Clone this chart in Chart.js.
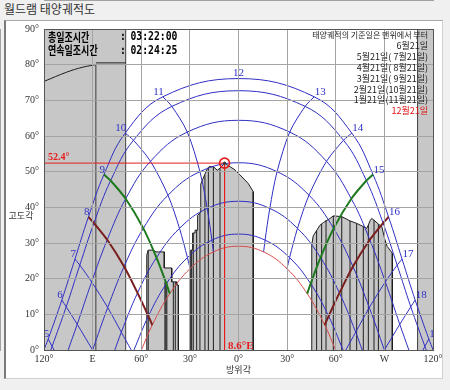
<!DOCTYPE html>
<html><head><meta charset="utf-8">
<script src="https://cdn.jsdelivr.net/npm/chart.js@4.4.1/dist/chart.umd.min.js"></script>
<style>
html,body{margin:0;padding:0;background:#f0f0f0;width:450px;height:390px;overflow:hidden;}
#title{position:absolute;left:4px;top:0px;font:12px "Noto Sans CJK KR";color:#333;line-height:18px;}
#panel{position:absolute;left:4px;top:20px;width:436px;height:357px;background:#fff;border:1px solid #d0d0d0;border-left:2px solid #7a7a7a;border-top:1px solid #a8a8a8;}
#c{position:absolute;left:0;top:0;}
</style></head><body>
<div id="title">월드램 태양궤적도</div>
<div id="panel"></div>
<canvas id="c" width="450" height="390"></canvas>
<script>
// ---------- data (azimuth: degrees from south, east negative; altitude: degrees) ----------
const hours = [5,6,7,8,9,10,11,12,13,14,15,16,17,18,19];
const dateNames = ['6월21일','5월21일( 7월21일)','4월21일( 8월21일)','3월21일( 9월21일)','2월21일(10월21일)','1월21일(11월21일)','12월21일'];
const legendHead = '태양궤적의 기준일은 맨위에서 부터';

const junAz  = [-117.4,-109.0,-100.9,-92.6,-83.0,-69.9,-46.7,0,46.7,69.9,83.0,92.6,100.9,109.0,117.4];
const junAlt = [3.1,14.0,25.5,37.3,49.2,60.8,71.0,76.1,71.0,60.8,49.2,37.3,25.5,14.0,3.1];
const mayAz  = [-115.0,-106.3,-97.9,-89.2,-78.9,-64.8,-41.1,0,41.1,64.8,78.9,89.2,97.9,106.3,115.0];
const mayAlt = [1.0,12.1,23.8,35.6,47.5,58.8,68.3,72.7,68.3,58.8,47.5,35.6,23.8,12.1,1.0];
const aprAz  = [null,-99.5,-90.6,-81.0,-69.6,-54.3,-31.6,0,31.6,54.3,69.6,81.0,90.6,99.5,null];
const aprAlt = [null,7.2,19.1,30.9,42.4,52.9,61.1,64.4,61.1,52.9,42.4,30.9,19.1,7.2,null];
const marAz  = [null,-90.0,-80.7,-70.6,-58.7,-43.5,-23.8,0,23.8,43.5,58.7,70.6,80.7,90.0,null];
const marAlt = [null,0,11.9,23.4,34.1,43.4,50.0,52.5,50.0,43.4,34.1,23.4,11.9,0,null];
const febAz  = [null,null,-72.3,-62.3,-50.6,-36.4,-19.3,0,19.3,36.4,50.6,62.3,72.3,null,null];
const febAlt = [null,null,5.0,16.0,25.9,34.1,39.7,41.7,39.7,34.1,25.9,16.0,5.0,null,null];
const janAz  = [null,null,null,-55.6,-44.5,-31.5,-16.4,0,16.4,31.5,44.5,55.6,null,null,null];
const janAlt = [null,null,null,9.5,18.6,25.9,30.8,32.5,30.8,25.9,18.6,9.5,null,null,null];
const decAz  = [null,null,null,-53.2,-42.4,-29.9,-15.5,0,15.5,29.9,42.4,53.2,null,null,null];
const decAlt = [null,null,null,7.0,15.8,22.8,27.5,29.1,27.5,22.8,15.8,7.0,null,null,null];
const riseAz = [120.1,115.8,105.1,90.0,76.3,64.5,59.9];
const hourHorizonAz = [-113.8,null,-66.2,null,null,null,null,null,null,null,null,null,66.2,null,113.8];

// obstructions
const obstLeftAz = [-120,-69.6];
const obstRightAz = [110.5,120];
const obstTop = 90;
const obstCurveAz = [-120,-106,-96,-88];
const obstCurveAlt = [75.3,77.9,79.3,80.0];
const obstFlatAz = [-88,-69.6];
const obstFlatAlt = 80.5;

// buildings (silhouettes)
const bldgAAz  = [-56.6,-56.6,-55.7,-52.6,-50.9,-45.8,-45.8,-41.2,-41.2,-38.1,-38.1,-37.1,-37.1];
const bldgAAlt = [0,26.6,28.0,28.0,27.5,27.5,23.0,23.0,19.1,19.1,18.2,18.2,0];
const bldgBAz  = [-29.5,-29.5,-28.3,-28.3,-26.8,-26.8,-25.2,-25.2,-23.3,-23.3,-21.9,-19.6,-18.2,-15.5,-13.1,-11.4,-8.6,-5.2,-2.2,0.9,6.0,9.1,9.1];
const bldgBAlt = [0,28.0,28.0,32.8,32.8,33.6,33.6,37.8,38.5,46.5,48.0,50.5,51.4,51.4,50.4,51.0,52.4,51.4,50.5,49.1,46.7,44.4,0];
const bldgCAz  = [45.2,45.2,46.1,48.2,50.3,52.3,56.5,58.5,63.7,68.8,72.9,77.0,79.1,80.1,81.1,82.2,83.6,86.3,88.4,90.4,91.8,93.5,94.9,94.9];
const bldgCAlt = [0,29.5,32.0,33.5,35.0,35.7,36.9,37.6,37.4,36.2,35.5,34.6,34.1,35.0,36.2,36.9,36.4,35.3,34.6,30.8,29.0,28.0,27.1,0];
// building facade division lines
const lineAAz  = [-55.7,-45.4,-44.8,-44.2,-40.2,-39.0];
const lineATop = [28.0,19.1,19.1,19.1,19.1,19.1];
const lineBAz  = [-28.9,-27.9,-25.8,-23.8,-20.7,-18.6,-15.5,-11.4];
const lineBTop = [28.0,32.8,33.6,38.3,49.0,51.2,51.4,51.0];
const lineCAz  = [48.2,51.3,54.0,58.5,63.7,68.8,72.9,77.0,80.1,83.6,86.3,90.4];
const lineCTop = [33.5,35.3,36.4,37.6,37.4,36.2,35.5,34.6,35.0,36.4,35.3,30.8];

// selected point
const markerAz = [-8.6];
const markerAlt = [52.4];
const markerLabels = ['52.4°','8.6°E'];

// info
const infoNames = ['총일조시간','연속일조시간'];
const infoTimes = ['03:22:00','02:24:25'];

// ticks
const xTickValues = [-120,-90,-60,-30,0,30,60,90,120];
const xTickLabels = ['120°','E','60°','30°','0°','30°','60°','W','120°'];
const yTickValues = [0,10,20,30,40,50,60,70,80,90];
const yTickLabels = ['0°','10°','20°','30°','40°','50°','60°','70°','80°','90°'];
const axisTitles = ['고도각','방위각'];

// ---------- build datasets ----------
const BLUE='#2f2fc4', DECRED='#d84a4a', GREEN='#1d7a1d', MAROON='#7a1d1d', MARK='#e81c1c', DARK='#1e1e1e', FILL='#c7c7c7';
const dateAz = [junAz,mayAz,aprAz,marAz,febAz,janAz,decAz];
const dateAlt = [junAlt,mayAlt,aprAlt,marAlt,febAlt,janAlt,decAlt];
const pts = (az, alt) => az.map((a,i)=>({x:a, y:Array.isArray(alt)?alt[i]:alt}));
const vlines = (az, top) => az.flatMap((a,i)=>[{x:a,y:0},{x:a,y:top[i]},{x:a,y:null}]);
const base = {showLine:true, pointRadius:0, pointHoverRadius:0, fill:false, tension:0, borderWidth:1};

const datasets = [];
// obstruction fills
datasets.push({...base, order:100, data:pts(obstLeftAz, obstTop), fill:'origin', backgroundColor:FILL, borderWidth:0, borderColor:'rgba(0,0,0,0)'});
datasets.push({...base, order:100, data:pts(obstRightAz, obstTop), fill:'origin', backgroundColor:FILL, borderWidth:0, borderColor:'rgba(0,0,0,0)'});
// obstruction outlines
datasets.push({...base, order:95, data:pts(obstCurveAz, obstCurveAlt), borderColor:DARK, tension:0.4});
datasets.push({...base, order:95, data:pts(obstFlatAz, obstFlatAlt), borderColor:DARK});
datasets.push({...base, order:95, data:vlines([obstCurveAz[3], obstLeftAz[1], obstRightAz[0]], [obstCurveAlt[3], obstTop, obstTop]), borderColor:'#3a3a3a', spanGaps:false});
// buildings
[[bldgAAz,bldgAAlt],[bldgBAz,bldgBAlt],[bldgCAz,bldgCAlt]].forEach(([az,alt])=>{
  datasets.push({...base, order:90, data:pts(az,alt), fill:'origin', backgroundColor:FILL, borderColor:DARK});
});
[[lineAAz,lineATop],[lineBAz,lineBTop],[lineCAz,lineCTop]].forEach(([az,top])=>{
  datasets.push({...base, order:85, data:vlines(az,top), borderColor:DARK, spanGaps:false});
});
// sun paths per date
dateAz.forEach((az,d)=>{
  const alt = dateAlt[d];
  const p = [{x:-riseAz[d], y:0}];
  az.forEach((a,i)=>{ if(a!==null && alt[i]>0) p.push({x:a,y:alt[i]}); });
  p.push({x:riseAz[d], y:0});
  datasets.push({...base, order: d===6?45:50, data:p, borderColor: d===6?DECRED:BLUE, tension:0.4});
});
// hour lines
const hourColor = {8:MAROON,16:MAROON,9:GREEN,15:GREEN};
hours.forEach((h,i)=>{
  const p = [];
  dateAz.forEach((az,d)=>{ if(az[i]!==null) p.push({x:az[i], y:dateAlt[d][i]}); });
  if(hourHorizonAz[i]!==null) p.push({x:hourHorizonAz[i], y:0});
  const c = hourColor[h];
  datasets.push({...base, order: c?40:50, data:p, borderColor: c||BLUE, borderWidth: c?2:1, tension:0.3});
});
// marker lines
datasets.push({...base, order:20, data:[{x:xTickValues[0],y:markerAlt[0]},{x:markerAz[0],y:markerAlt[0]}], borderColor:MARK});
datasets.push({...base, order:20, data:[{x:markerAz[0],y:markerAlt[0]},{x:markerAz[0],y:0}], borderColor:MARK});
datasets.push({showLine:false, order:10, data:pts(markerAz,markerAlt), pointRadius:5, pointBorderColor:MARK, pointBackgroundColor:'rgba(0,0,0,0)', pointBorderWidth:1.6});
datasets.push({showLine:false, order:9, data:pts(markerAz,markerAlt), pointRadius:1.5, pointBorderColor:'#333', pointBackgroundColor:'#333', pointBorderWidth:0});

// ---------- text plugin ----------
const textPlugin = {
  id:'texts',
  afterDraw(chart){
    const {ctx, chartArea:a, scales:{x, y}} = chart;
    ctx.save();
    // hour labels on the June path
    ctx.save();
    ctx.beginPath(); ctx.rect(a.left, a.top, a.right-a.left, a.bottom-a.top); ctx.clip();
    ctx.font = '11px "Liberation Serif"'; ctx.fillStyle = '#3030c8'; ctx.textBaseline='alphabetic';
    hours.forEach((h,i)=>{
      const px = x.getPixelForValue(junAz[i]), py = y.getPixelForValue(junAlt[i]);
      if(i<7){ctx.textAlign='right'; ctx.fillText(String(h), px+1, py-2);}
      else if(i===7){ctx.textAlign='center'; ctx.fillText(String(h), px, py-3);}
      else {ctx.textAlign='left'; ctx.fillText(String(h), px+0.5, py-2);}
    });
    ctx.restore();
    // info box
    ctx.fillStyle = '#000'; ctx.textBaseline = 'middle'; ctx.textAlign = 'left';
    ctx.font = 'bold 12px "Noto Sans CJK KR"';
    infoNames.forEach((t,i)=>{
      const yy = a.top + 8 + i*13.5;
      ctx.save(); ctx.translate(a.left+4, yy); ctx.scale(0.75,1); ctx.fillText(t,0,0); ctx.restore();
      ctx.font = 'bold 13px "DejaVu Sans Mono"';
      ctx.save(); ctx.translate(a.left+76, yy); ctx.scale(0.75,1); ctx.fillText(':',0,0); ctx.fillText(infoTimes[i], 10.5/0.75, 0); ctx.restore();
      ctx.font = 'bold 12px "Noto Sans CJK KR"';
    });
    // legend (top-right)
    ctx.textAlign = 'right'; ctx.fillStyle = '#222';
    ctx.font = '8px "Noto Sans CJK KR"';
    ctx.fillText(legendHead, a.right-5, a.top+6);
    ctx.font = '9px "Noto Sans CJK KR"';
    dateNames.forEach((t,i)=>{
      ctx.fillStyle = i===6 ? '#e01010' : '#222';
      ctx.fillText(t, a.right-5, a.top+17+i*10.8);
    });
    // marker labels
    ctx.fillStyle = MARK; ctx.textAlign='left'; ctx.textBaseline='alphabetic';
    ctx.font = 'bold 10px "Liberation Serif"';
    ctx.fillText(markerLabels[0], a.left+4, y.getPixelForValue(markerAlt[0])-3);
    ctx.font = 'bold 11px "Liberation Serif"';
    ctx.fillText(markerLabels[1], x.getPixelForValue(markerAz[0])+3.5, a.bottom-1.5);
    // axis titles
    ctx.fillStyle = '#333'; ctx.textAlign='center'; ctx.textBaseline='middle';
    ctx.font = '9px "Noto Sans CJK KR"';
    ctx.fillText(axisTitles[0], 21, (a.top+a.bottom)/2+26);
    ctx.fillText(axisTitles[1], (a.left+a.right)/2, a.bottom+19.5);
    // frame
    ctx.strokeStyle = '#555'; ctx.lineWidth = 1;
    ctx.strokeRect(a.left+0.5, a.top+0.5, a.right-a.left, a.bottom-a.top);
    ctx.restore();
  }
};

new Chart(document.getElementById('c').getContext('2d'), {
  type:'scatter',
  data:{datasets},
  options:{
    responsive:false, animation:false, devicePixelRatio:1,
    layout:{padding:{top:29, right:17, left:0, bottom:0}},
    plugins:{legend:{display:false}, tooltip:{enabled:false}},
    events:[],
    scales:{
      x:{type:'linear', min:-120, max:120,
         ticks:{stepSize:30, autoSkip:false, maxRotation:0, padding:3, color:'#333', font:{family:'"Liberation Serif"', size:10},
                callback:(v)=>{const k=xTickValues.indexOf(v); return k<0?'':xTickLabels[k];}},
         grid:{color:'#a4a4a4', z:1, drawTicks:false},
         border:{color:'#555'},
         afterFit:(s)=>{s.height=40;}},
      y:{type:'linear', min:0, max:90,
         ticks:{stepSize:10, autoSkip:false, padding:5, color:'#333', font:{family:'"Liberation Serif"', size:10},
                callback:(v)=>{const k=yTickValues.indexOf(v); return k<0?'':yTickLabels[k];}},
         grid:{color:'#a4a4a4', z:1, drawTicks:false},
         border:{color:'#555'},
         afterFit:(s)=>{s.width=44;}}
    }
  },
  plugins:[textPlugin]
});
</script>
</body></html>
